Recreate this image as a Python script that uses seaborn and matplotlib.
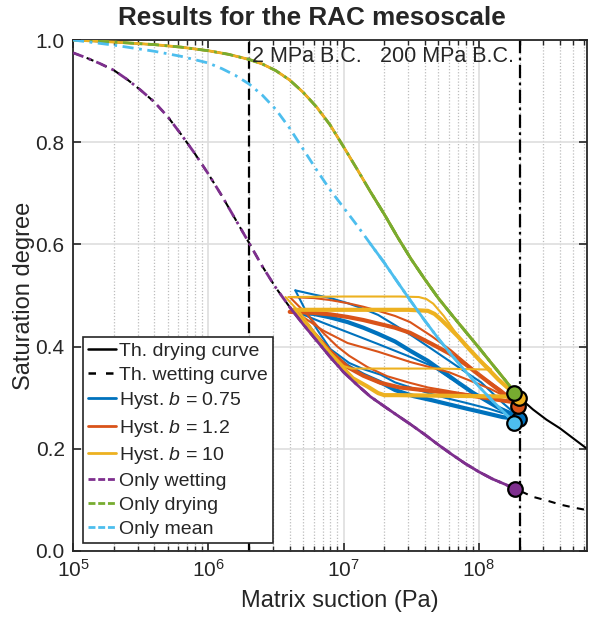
import numpy as np
import pandas as pd
import matplotlib
matplotlib.use("Agg")
import matplotlib.pyplot as plt
import seaborn as sns
from matplotlib.lines import Line2D
from matplotlib.ticker import LogLocator, FixedLocator, FormatStrFormatter, NullFormatter

# ---------------- data ----------------
# theoretical drying curve
drying_suction = [1.0e5, 2.0e5, 3.98e5, 6.31e5, 1.0e6, 1.41e6, 2.0e6, 2.51e6, 3.16e6, 3.98e6,
                  5.01e6, 6.31e6, 7.94e6, 1.0e7, 1.26e7, 1.58e7, 2.0e7, 2.51e7, 3.16e7,
                  3.98e7, 5.01e7, 6.31e7, 7.94e7, 1.0e8, 1.26e8, 1.58e8, 1.82e8,
                  2.0e8, 2.51e8, 3.16e8, 3.98e8, 5.01e8, 6.31e8]
drying_S = [1.000, 0.996, 0.991, 0.986, 0.979, 0.972, 0.962, 0.953, 0.940, 0.922,
            0.898, 0.869, 0.834, 0.791, 0.747, 0.703, 0.659, 0.614, 0.571,
            0.532, 0.495, 0.462, 0.430, 0.398, 0.365, 0.333, 0.312,
            0.300, 0.277, 0.257, 0.240, 0.220, 0.200]
# theoretical wetting curve
wetting_suction = [1.0e5, 1.26e5, 1.58e5, 2.0e5, 2.51e5, 3.16e5, 3.98e5, 5.01e5, 6.31e5, 7.94e5,
                   1.0e6, 1.26e6, 1.58e6, 2.0e6, 2.51e6, 3.16e6, 3.98e6, 5.01e6, 6.31e6,
                   7.94e6, 1.0e7, 1.26e7, 1.58e7, 2.0e7, 2.51e7, 3.16e7, 3.98e7, 5.01e7,
                   6.31e7, 7.94e7, 1.0e8, 1.26e8, 1.58e8, 1.85e8, 2.0e8, 2.51e8, 3.16e8,
                   3.98e8, 5.01e8, 6.31e8]
wetting_S = [0.975, 0.965, 0.954, 0.941, 0.923, 0.902, 0.879, 0.850, 0.815, 0.778,
             0.738, 0.695, 0.650, 0.603, 0.557, 0.515, 0.478, 0.444, 0.412,
             0.380, 0.350, 0.325, 0.302, 0.283, 0.265, 0.247, 0.228, 0.208,
             0.189, 0.171, 0.155, 0.141, 0.130, 0.121, 0.118, 0.106, 0.099,
             0.091, 0.085, 0.080]
# only-mean curve
mean_suction = [1.0e5, 2.0e5, 3.98e5, 6.31e5, 1.0e6, 1.26e6, 1.58e6, 2.0e6, 2.51e6, 3.16e6,
                3.98e6, 5.01e6, 6.31e6, 7.94e6, 1.0e7, 1.26e7, 1.58e7, 2.0e7, 2.51e7,
                3.16e7, 3.98e7, 5.01e7, 6.31e7, 7.94e7, 1.0e8, 1.26e8, 1.58e8, 1.82e8]
mean_S = [1.000, 0.990, 0.978, 0.968, 0.955, 0.944, 0.931, 0.914, 0.892, 0.864,
          0.828, 0.787, 0.746, 0.707, 0.672, 0.637, 0.601, 0.564, 0.526,
          0.488, 0.451, 0.416, 0.383, 0.352, 0.322, 0.294, 0.268, 0.252]

# hysteresis paths, b = 0.75
hyst075_suction = [
    [4.4e6, 6.0e6, 8e6, 1.07e7, 1.4e7, 1.8e7, 2.4e7, 3.3e7, 4.5e7, 6.2e7, 8e7, 1.04e8, 1.5e8, 1.98e8],
    [4.8e6, 6e6, 8e6, 1.07e7, 1.4e7, 1.8e7, 2.4e7, 3.1e7, 4.2e7, 5.5e7, 7e7, 9e7, 1.4e8, 1.98e8],
    [4.3e6, 7e6, 1.1e7, 1.8e7, 3.1e7, 4.5e7, 6e7, 8.5e7, 1.2e8, 1.98e8],
    [1.98e8, 1.5e8, 1.04e8, 8e7, 6e7, 4.5e7, 3.3e7, 2.4e7, 1.88e7, 1.4e7, 1.07e7, 8e6, 6.5e6, 5.5e6, 4.4e6],
    [1.98e8, 1.5e8, 1.2e8, 8e7, 6e7, 4.5e7, 3.3e7, 2.4e7, 1.88e7, 1.4e7, 1.1e7, 8e6, 6.5e6, 5.3e6, 4.4e6],
]
hyst075_S = [
    [0.510, 0.502, 0.495, 0.485, 0.474, 0.462, 0.442, 0.419, 0.395, 0.370, 0.350, 0.330, 0.290, 0.262],
    [0.466, 0.464, 0.457, 0.448, 0.437, 0.425, 0.410, 0.392, 0.372, 0.350, 0.330, 0.310, 0.280, 0.262],
    [0.470, 0.447, 0.427, 0.405, 0.380, 0.362, 0.340, 0.315, 0.290, 0.262],
    [0.258, 0.262, 0.272, 0.279, 0.287, 0.295, 0.303, 0.315, 0.330, 0.345, 0.362, 0.387, 0.412, 0.440, 0.470],
    [0.262, 0.270, 0.278, 0.290, 0.298, 0.307, 0.318, 0.330, 0.345, 0.356, 0.368, 0.395, 0.430, 0.468, 0.510],
]
# hysteresis paths, b = 1.2
hyst12_suction = [
    [4.0e6, 6e6, 8e6, 1.07e7, 1.4e7, 1.8e7, 2.4e7, 3.1e7, 4.5e7, 6.2e7, 8e7, 1.0e8, 1.46e8, 1.95e8],
    [4.0e6, 6e6, 8e6, 1.07e7, 1.4e7, 1.8e7, 2.4e7, 3.1e7, 4.5e7, 6.2e7, 8e7, 1.0e8, 1.46e8, 1.95e8],
    [4.3e6, 7e6, 1.07e7, 1.8e7, 3.1e7, 6e7, 1.2e8, 1.95e8],
    [1.95e8, 1.46e8, 1.1e8, 8.3e7, 6e7, 4.5e7, 3.3e7, 2.6e7, 1.88e7, 1.4e7, 1.07e7, 8e6, 6e6, 4.3e6],
    [1.95e8, 1.2e8, 8e7, 6e7, 4.2e7, 3e7, 2.1e7, 1.5e7, 1.1e7, 9e6, 7e6, 5.5e6, 4.0e6],
]
hyst12_S = [
    [0.497, 0.495, 0.491, 0.485, 0.478, 0.470, 0.460, 0.448, 0.420, 0.393, 0.368, 0.345, 0.315, 0.286],
    [0.468, 0.466, 0.463, 0.458, 0.452, 0.445, 0.437, 0.427, 0.405, 0.385, 0.365, 0.345, 0.312, 0.286],
    [0.470, 0.432, 0.407, 0.390, 0.370, 0.350, 0.318, 0.290],
    [0.290, 0.295, 0.300, 0.305, 0.309, 0.313, 0.317, 0.320, 0.329, 0.343, 0.360, 0.390, 0.427, 0.472],
    [0.290, 0.300, 0.307, 0.313, 0.320, 0.330, 0.342, 0.360, 0.382, 0.400, 0.428, 0.460, 0.497],
]
# hysteresis paths, b = 10
hyst10_suction = [
    [3.9e6, 1e7, 2.6e7, 3.6e7, 4.1e7, 4.6e7, 5.5e7, 6.7e7, 8e7, 1.0e8, 1.23e8],
    [1.23e8, 5e7, 2e7, 1.15e7, 1.0e7, 8e6, 6e6, 4.8e6, 3.72e6],
    [4.26e6, 1e7, 3e7, 4.2e7, 4.7e7, 5.3e7, 6e7, 7e7, 8.5e7, 1.0e8, 1.4e8, 1.98e8],
    [1.98e8, 1e8, 5e7, 2.5e7, 2.0e7, 1.8e7, 1.5e7, 1.17e7, 9e6, 6.76e6, 5.3e6, 4.26e6],
]
hyst10_S = [
    [0.497, 0.498, 0.498, 0.497, 0.493, 0.484, 0.460, 0.428, 0.400, 0.375, 0.355],
    [0.355, 0.357, 0.357, 0.357, 0.362, 0.388, 0.430, 0.465, 0.497],
    [0.472, 0.472, 0.472, 0.470, 0.464, 0.452, 0.438, 0.420, 0.395, 0.375, 0.335, 0.300],
    [0.302, 0.303, 0.304, 0.305, 0.305, 0.309, 0.322, 0.338, 0.370, 0.407, 0.440, 0.472],
]

# end points (markers)
end_labels = ["b075", "b12", "b10", "wet", "dry", "mean"]
end_suction = [1.98e8, 1.95e8, 1.98e8, 1.85e8, 1.82e8, 1.82e8]
end_S = [0.258, 0.284, 0.300, 0.121, 0.310, 0.250]

bc_suction = [2e6, 2e8]
bc_labels = ["2 MPa B.C.", "200 MPa B.C."]
legend_labels = ["Th. drying curve", "Th. wetting curve", r"Hyst. $b$ = 0.75",
                 r"Hyst. $b$ = 1.2", r"Hyst. $b$ = 10", "Only wetting",
                 "Only drying", "Only mean"]

# ---------------- style ----------------
sns.set_theme(style="ticks")
plt.rcParams["font.family"] = ["Liberation Sans", "DejaVu Sans"]
plt.rcParams["mathtext.fontset"] = "custom"
plt.rcParams["mathtext.rm"] = "Liberation Sans"
plt.rcParams["mathtext.it"] = "Liberation Sans:italic"
plt.rcParams["mathtext.bf"] = "Liberation Sans:bold"

C_BLUE, C_ORANGE, C_YELLOW = "#0072BD", "#D95319", "#EDB120"
C_PURPLE, C_GREEN, C_CYAN = "#7E2F8E", "#77AC30", "#4DBEEE"
DASHDOT = (0, (4, 2, 1, 2))
DASHED = (0, (3.5, 3.5))

fig = plt.figure(figsize=(5.89, 6.19), dpi=100)
W, H = 589, 619
L, R, T, B = 73, 587, 40, 551
ax = fig.add_axes([L / W, (H - B) / H, (R - L) / W, (B - T) / H])
ax.set_xscale("log")


def line(x, y, color, lw, ls="-", z=3):
    df = pd.DataFrame({"suction": x, "S": y})
    sns.lineplot(data=df, x="suction", y="S", estimator=None, sort=False,
                 color=color, lw=lw, linestyle=ls, ax=ax, legend=False, zorder=z)


# boundary condition lines
ax.axvline(bc_suction[0], color="black", lw=1.6, ls=(0, (5, 2)), zorder=2)
ax.axvline(bc_suction[1], color="black", lw=1.6, ls=(0, (6, 2, 1.2, 2)), zorder=2)

# theoretical curves
line(drying_suction, drying_S, "black", 1.5, "-", z=2.5)
line(wetting_suction, wetting_S, "black", 1.5, DASHED, z=2.5)

# initial drying of the hysteresis model (under the green curve)
n_end = drying_suction.index(1.82e8) + 1
line(drying_suction[:n_end], drying_S[:n_end], C_YELLOW, 2.0, "-", z=2.6)

# hysteresis loops
widths075 = [1.5, 3.0, 1.5, 3.0, 1.5]
for x, y, w in zip(hyst075_suction, hyst075_S, widths075):
    line(x, y, C_BLUE, w, z=3)
widths12 = [1.5, 3.0, 1.5, 3.0, 1.5]
for x, y, w in zip(hyst12_suction, hyst12_S, widths12):
    line(x, y, C_ORANGE, w, z=3.1)
widths10 = [1.5, 1.5, 3.0, 3.0]
for x, y, w in zip(hyst10_suction, hyst10_S, widths10):
    line(x, y, C_YELLOW, w, z=3.2)

# "only" curves: dash-dot, and solid where they are cycled repeatedly
n_w = wetting_suction.index(1.85e8) + 1
n_w0 = wetting_suction.index(3.98e6)
line(wetting_suction[:n_w], wetting_S[:n_w], C_PURPLE, 2.0, DASHDOT, z=4)
line(wetting_suction[n_w0:n_w], wetting_S[n_w0:n_w], C_PURPLE, 2.0, "-", z=4)

n_d0 = drying_suction.index(1.58e7)
line(drying_suction[:n_end], drying_S[:n_end], C_GREEN, 2.0, DASHDOT, z=4.1)
line(drying_suction[n_d0:n_end], drying_S[n_d0:n_end], C_GREEN, 2.0, "-", z=4.1)

n_m0 = mean_suction.index(1.58e7)
line(mean_suction, mean_S, C_CYAN, 2.0, DASHDOT, z=4.2)
line(mean_suction[n_m0:], mean_S[n_m0:], C_CYAN, 2.0, "-", z=4.2)

# end markers
marker_colors = {"b075": C_BLUE, "b12": C_ORANGE, "b10": C_YELLOW,
                 "wet": C_PURPLE, "dry": C_GREEN, "mean": C_CYAN}
for i, (lab, xs, ys) in enumerate(zip(end_labels, end_suction, end_S)):
    sns.scatterplot(x=[xs], y=[ys], ax=ax, s=110, color=marker_colors[lab],
                    edgecolor="black", linewidth=1.6, zorder=6 + i, legend=False)

# text annotations
ax.text(2.1e6, 0.968, bc_labels[0], fontsize=15.5, ha="left", va="center", zorder=7)
ax.text(1.82e8, 0.968, bc_labels[1], fontsize=15.5, ha="right", va="center", zorder=7)

# axes formatting
ax.set_xlim(1e5, 6.3e8)
ax.set_ylim(0, 1)
ax.xaxis.set_major_locator(LogLocator(base=10, numticks=12))
ax.xaxis.set_minor_locator(LogLocator(base=10, subs=np.arange(2, 10), numticks=12))
ax.xaxis.set_minor_formatter(NullFormatter())
ax.yaxis.set_major_locator(FixedLocator([0, 0.2, 0.4, 0.6, 0.8, 1.0]))
ax.yaxis.set_major_formatter(FormatStrFormatter("%.1f"))
ax.tick_params(which="both", direction="in", top=True, right=True, colors="#262626",
               labelcolor="#262626", labelsize=15)
ax.tick_params(which="major", length=6, width=1.2, pad=6)
ax.tick_params(which="minor", length=3.5, width=1.0)
ax.grid(which="major", color="#DEDEDE", lw=1.2, ls="-", zorder=0)
ax.xaxis.grid(which="minor", color="#BDBDBD", lw=0.9, ls=(0, (1, 1.5)), zorder=0)
ax.set_axisbelow(True)
for sp in ax.spines.values():
    sp.set_color("#262626")
    sp.set_linewidth(1.3)
ax.set_xlabel("")
ax.set_ylabel("")

fig.text(340 / W, 1 - 601 / H, "Matrix suction (Pa)", fontsize=17, ha="center", va="center",
         color="#262626")
fig.text(24 / W, 1 - 296 / H, "Saturation degree", fontsize=17, ha="center", va="center",
         rotation=90, color="#262626")
fig.text(312 / W, 1 - 18 / H, "Results for the RAC mesoscale", fontsize=18.8,
         fontweight="bold", ha="center", va="center")

# legend
handles = [
    Line2D([], [], color="black", lw=1.8, ls="-"),
    Line2D([], [], color="black", lw=1.8, ls=(0, (3, 4))),
    Line2D([], [], color=C_BLUE, lw=2.0),
    Line2D([], [], color=C_ORANGE, lw=2.0),
    Line2D([], [], color=C_YELLOW, lw=2.0),
    Line2D([], [], color=C_PURPLE, lw=2.0, ls=(0, (2.5, 1, 2.5, 1))),
    Line2D([], [], color=C_GREEN, lw=2.0, ls=(0, (2.5, 1, 2.5, 1))),
    Line2D([], [], color=C_CYAN, lw=2.0, ls=(0, (2.5, 1, 2.5, 1))),
]
leg = ax.legend(handles, legend_labels, loc="lower left", bbox_to_anchor=(10 / (R - L), 8 / (B - T)),
                borderaxespad=0, fontsize=14, frameon=True, fancybox=False, framealpha=1,
                edgecolor="#262626", handlelength=1.45, handletextpad=0.15, labelspacing=0.33,
                borderpad=0.25)
leg.get_frame().set_linewidth(1.2)
leg.set_zorder(20)

fig.savefig("out.png", dpi=100)
